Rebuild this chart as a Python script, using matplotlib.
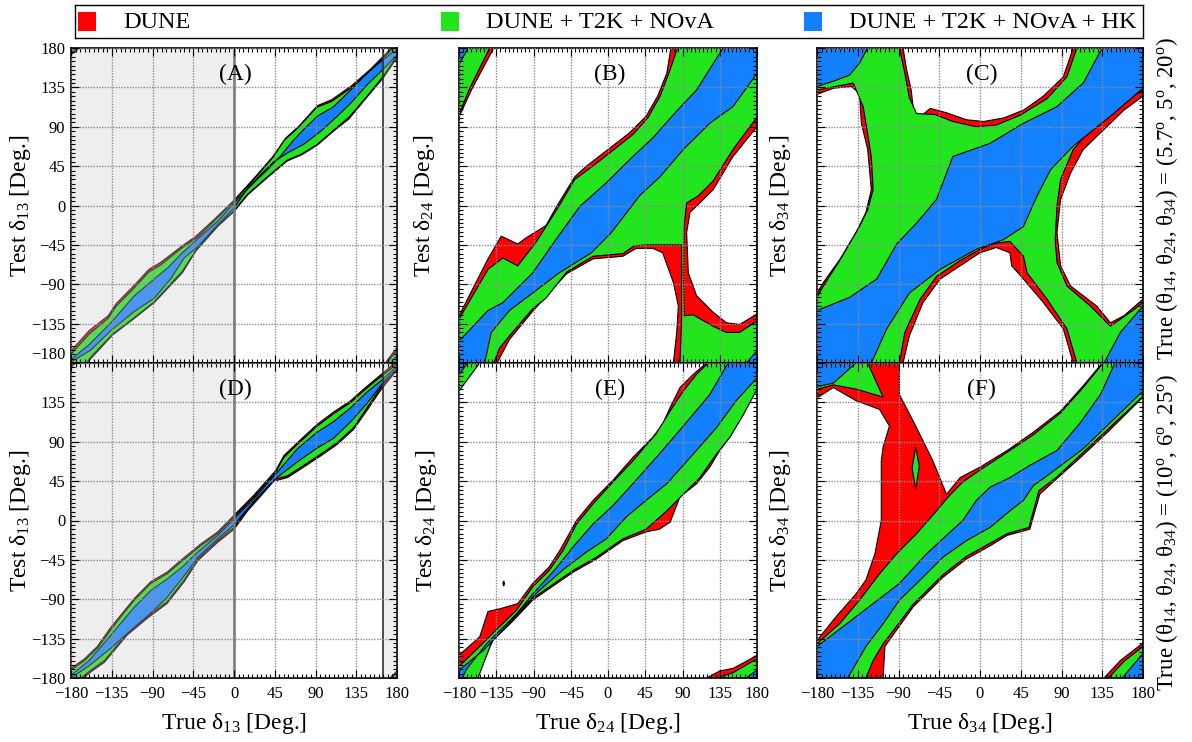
import numpy as np
import matplotlib
matplotlib.use("Agg")
import matplotlib.pyplot as plt
from matplotlib.path import Path
from matplotlib.patches import PathPatch, Rectangle

plt.rcParams["font.family"] = ["Liberation Serif", "DejaVu Serif"]
plt.rcParams["mathtext.fontset"] = "custom"
plt.rcParams["mathtext.rm"] = "Liberation Serif"
plt.rcParams["mathtext.it"] = "Liberation Serif:italic"

RED = "#ff0000"
GREEN = "#22e51e"
BLUE = "#1381ff"

LEGEND_LABELS = ["DUNE", "DUNE + T2K + NOvA", "DUNE + T2K + NOvA + HK"]
TICKS = [-180, -135, -90, -45, 0, 45, 90, 135, 180]
FULL = [(-180, -180), (180, -180), (180, 180), (-180, 180)]

# ---------- (A) true delta13 vs test delta13, set 1 ----------
A_RED = [(-180, -166), (-160, -143), (-139, -126), (-130, -112), (-110, -91), (-94, -73), (-81, -65),
         (-57, -46), (-42, -35), (-22, -16), (0, 6), (22, 31), (43, 56), (57, 77), (72, 91), (92, 114),
         (108, 121), (130, 137), (151, 156), (172, 178), (175, 180), (180, 180), (180, 169), (165, 146),
         (147, 124), (127, 99), (110, 85), (92, 69), (75, 58), (59, 51), (37, 32), (15, 12), (0, -7),
         (-18, -24), (-42, -52), (-57, -77), (-88, -111), (-110, -129), (-134, -148), (-158, -175),
         (-162, -180), (-180, -180)]
A_GREEN = [(-180, -170), (-160, -147), (-139, -129), (-130, -115), (-110, -94), (-94, -76), (-81, -68),
           (-57, -48), (-40, -36), (-22, -18), (0, 5), (22, 30), (43, 55), (56, 75), (71, 89), (91, 112),
           (108, 119), (130, 135), (151, 154), (173, 177), (177, 180), (180, 180), (180, 171), (165, 148),
           (147, 125), (127, 101), (110, 86), (92, 70), (75, 59), (59, 52), (37, 33), (15, 13), (0, -6),
           (-18, -23), (-42, -51), (-57, -75), (-88, -110), (-110, -128), (-134, -147), (-158, -173),
           (-163, -180), (-180, -180)]
A_BLUE = [(-180, -176), (-160, -159), (-136, -134), (-125, -121), (-110, -103), (-88, -84), (-73, -71),
          (-57, -54), (-40, -38), (-18, -18), (0, 3), (22, 26), (37, 41), (51, 56), (66, 75), (77, 87),
          (92, 102), (110, 113), (125, 128), (143, 147), (158, 161), (175, 175), (180, 178), (180, 172),
          (165, 156), (147, 138), (129, 117), (114, 102), (96, 85), (77, 70), (59, 60), (44, 50), (29, 35),
          (15, 20), (0, -3), (-18, -22), (-40, -47), (-55, -60), (-70, -84), (-88, -106), (-110, -121),
          (-136, -143), (-158, -165), (-180, -179)]
A_RED_TL = [(-180, 180), (-171, 180), (-180, 172)]
A_GREEN_TL = [(-180, 180), (-173, 180), (-180, 175)]
A_RED_BR = [(167, -180), (180, -162), (180, -180)]
A_GREEN_BR = [(169, -180), (180, -165), (180, -180)]
A_BLUE_BR = [(173, -180), (180, -171), (180, -180)]

# ---------- (B) true delta24 vs test delta24, set 1 ----------
B_RED_HOLE_TL = [(-138, 180), (76, 180), (71, 151), (60, 125), (46, 102), (26, 83), (0, 64), (-26, 45),
                 (-40, 33), (-62, -1), (-75, -23), (-99, -37), (-109, -44), (-129, -35), (-145, -61),
                 (-180, -126), (-180, 101), (-165, 132)]
B_RED_HOLE_LM = [(-134, -180), (79, -180), (83, -145), (85, -115), (79, -88), (66, -54), (54, -49),
                 (34, -49), (18, -58), (-18, -61), (-50, -78), (-91, -121), (-119, -153)]
B_RED_HOLE_LR = [(180, 90), (151, 56), (127, 18), (111, 3), (99, -8), (95, -31), (97, -77), (107, -103),
                 (127, -122), (143, -134), (159, -136), (180, -124)]
B_GREEN_HOLE_TL = [(-143, 180), (84, 180), (75, 155), (63, 125), (48, 100), (30, 81), (2, 60), (-24, 41),
                   (-40, 30), (-62, -5), (-87, -42), (-109, -69), (-127, -60), (-145, -73), (-180, -130),
                   (-180, 104), (-168, 132)]
B_GREEN_HOLE_LM = [(-138, -180), (87, -180), (89, -126), (89, -45), (48, -45), (32, -46), (18, -55),
                   (-18, -58), (-50, -76), (-75, -106), (-91, -118), (-119, -149), (-131, -163)]
B_GREEN_HOLE_LR = [(180, 101), (151, 64), (127, 28), (109, 11), (95, 3), (92, -24), (91, -77), (92, -126),
                   (103, -125), (127, -138), (143, -145), (159, -145), (180, -132)]
B_BLUE = [(-180, -155), (-145, -120), (-127, -111), (-91, -77), (-63, -39), (-34, -1), (-2, 26), (30, 56),
          (54, 77), (83, 108), (107, 132), (139, 180), (180, 180), (180, 151), (151, 113), (123, 94),
          (91, 64), (63, 33), (38, 11), (4, -31), (-20, -54), (-59, -77), (-91, -100), (-119, -120),
          (-141, -145), (-149, -180), (-180, -180)]
B_BLUE_TL = [(-180, 180), (-169, 180), (-180, 161)]
B_BLUE_BR = [(167, -180), (180, -166), (180, -180)]

# ---------- (C) true delta34 vs test delta34, set 1 ----------
C_RED_HOLE_L = [(-180, 127), (-162, 134), (-142, 136), (-133, 128), (-131, 94), (-124, 64), (-120, 18),
                (-126, -8), (-137, -31), (-155, -62), (-173, -88), (-180, -100)]
C_RED_HOLE_T = [(-85, 180), (-81, 155), (-76, 132), (-72, 96), (-55, 111), (-37, 106), (-15, 98), (4, 96),
                (26, 100), (48, 109), (70, 125), (92, 147), (103, 180)]
C_RED_HOLE_B = [(-85, -180), (-78, -149), (-63, -111), (-44, -84), (-22, -69), (0, -54), (18, -48),
                (33, -54), (35, -69), (48, -84), (70, -111), (92, -141), (103, -180)]
C_RED_HOLE_R = [(180, 125), (159, 109), (137, 87), (114, 64), (100, 37), (89, 7), (85, -31), (89, -69),
                (100, -92), (129, -115), (144, -134), (159, -126), (180, -107)]
C_GREEN_HOLE_L = [(-180, 132), (-140, 140), (-129, 113), (-120, 56), (-118, 18), (-124, -5), (-133, -24),
                  (-155, -63), (-173, -92), (-180, -105)]
C_GREEN_HOLE_T = [(-89, 180), (-83, 151), (-78, 123), (-70, 105), (-50, 104), (-30, 96), (-4, 90),
                  (18, 92), (44, 103), (74, 122), (96, 147), (107, 180)]
C_GREEN_HOLE_B = [(-89, -180), (-83, -145), (-66, -107), (-48, -81), (-22, -63), (0, -50), (18, -43),
                  (33, -41), (48, -58), (52, -77), (74, -107), (96, -141), (107, -180)]
C_GREEN_HOLE_R = [(180, 132), (151, 113), (122, 87), (103, 64), (89, 30), (85, -1), (83, -39), (85, -65),
                  (96, -92), (122, -115), (144, -138), (170, -119), (180, -111)]
C_BLUE = [(-180, -120), (-144, -105), (-114, -84), (-92, -44), (-70, -20), (-48, 7), (-30, 56), (11, 71),
          (48, 94), (85, 113), (114, 140), (135, 180), (180, 180), (180, 134), (144, 102), (103, 68),
          (78, 41), (63, 11), (48, -24), (26, -39), (-4, -50), (-44, -73), (-78, -100), (-103, -141),
          (-120, -180), (-180, -180)]
C_BLUE_TL = [(-180, 180), (-124, 180), (-133, 163), (-144, 149), (-162, 142), (-180, 136)]
C_BLUE_BR = [(137, -180), (155, -145), (180, -115), (180, -180)]

# ---------- (D) true delta13 vs test delta13, set 2 ----------
D_RED = [(-180, -169), (-165, -158), (-151, -144), (-136, -122), (-125, -108), (-110, -89), (-92, -70),
         (-74, -59), (-57, -44), (-37, -27), (-18, -13), (0, 6), (22, 29), (46, 57), (55, 74), (70, 89),
         (92, 110), (110, 124), (129, 137), (143, 150), (158, 163), (172, 175), (176, 180), (180, 180),
         (180, 172), (169, 158), (162, 149), (147, 126), (132, 104), (114, 87), (96, 74), (74, 59),
         (59, 49), (44, 45), (33, 32), (15, 11), (0, -10), (-18, -25), (-40, -46), (-55, -70), (-74, -95),
         (-96, -112), (-118, -131), (-143, -162), (-158, -173), (-166, -180), (-180, -180)]
D_GREEN = [(-180, -171), (-165, -160), (-151, -146), (-136, -125), (-125, -110), (-110, -91), (-92, -72),
           (-74, -61), (-57, -46), (-37, -29), (-18, -15), (0, 4), (22, 27), (46, 55), (55, 72), (70, 87),
           (92, 108), (110, 122), (129, 135), (143, 148), (158, 161), (173, 173), (180, 179), (180, 175),
           (169, 161), (162, 152), (147, 129), (132, 106), (114, 89), (96, 76), (74, 61), (59, 51),
           (44, 47), (33, 34), (15, 13), (0, -8), (-18, -23), (-40, -44), (-55, -68), (-74, -93),
           (-96, -110), (-118, -129), (-143, -160), (-158, -171), (-169, -180), (-180, -180)]
D_BLUE = [(-180, -177), (-160, -160), (-136, -131), (-110, -99), (-92, -80), (-74, -67), (-57, -53),
          (-40, -36), (-18, -17), (0, 2), (22, 25), (46, 53), (70, 82), (92, 101), (110, 113), (129, 129),
          (147, 147), (165, 162), (180, 176), (180, 173), (165, 158), (147, 134), (129, 113), (110, 94),
          (92, 83), (70, 67), (46, 48), (22, 22), (0, -5), (-18, -21), (-40, -42), (-57, -66), (-74, -88),
          (-92, -106), (-110, -122), (-136, -146), (-160, -166), (-180, -180)]
D_RED_TL = [(-180, 180), (-175, 180), (-180, 175)]
D_RED_BR = [(172, -180), (180, -172), (180, -180)]
D_GREEN_BR = [(174, -180), (180, -174), (180, -180)]

# ---------- (E) true delta24 vs test delta24, set 2 ----------
E_RED = [(-180, -154), (-155, -133), (-145, -104), (-131, -101), (-109, -95), (-91, -72), (-71, -53),
         (-58, -34), (-38, 0), (-18, 23), (6, 46), (30, 72), (54, 95), (66, 110), (75, 129), (87, 152),
         (103, 167), (119, 180), (180, 180), (180, 152), (163, 121), (147, 95), (135, 80), (123, 61),
         (107, 42), (87, 27), (75, -2), (62, -10), (46, -13), (18, -23), (-14, -44), (-42, -59),
         (-62, -72), (-91, -91), (-115, -115), (-139, -137), (-159, -180), (-180, -180)]
E_GREEN = [(-180, -167), (-155, -144), (-135, -125), (-111, -103), (-91, -76), (-71, -57), (-54, -34),
           (-38, -4), (-18, 19), (6, 44), (30, 68), (58, 99), (75, 125), (91, 148), (107, 167), (121, 180),
           (180, 180), (180, 150), (163, 120), (147, 95), (131, 76), (111, 49), (91, 30), (71, 11),
           (46, -10), (18, -21), (-14, -42), (-42, -57), (-62, -70), (-91, -89), (-115, -113),
           (-139, -135), (-157, -180), (-180, -180)]
E_BLUE = [(-180, -171), (-150, -148), (-120, -118), (-91, -84), (-63, -55), (-42, -30), (-18, -4), (6, 17),
          (30, 42), (62, 76), (91, 108), (123, 144), (145, 180), (180, 180), (180, 163), (155, 137),
          (131, 106), (103, 76), (71, 42), (46, 23), (22, 4), (-2, -21), (-26, -36), (-54, -56),
          (-83, -80), (-115, -111), (-147, -141), (-171, -170), (-176, -180), (-180, -180)]
E_GREEN_TL = [(-180, 180), (-155, 180), (-180, 148)]
E_BLUE_TL = [(-180, 180), (-170, 180), (-180, 166)]
E_RED_BR = [(119, -180), (135, -172), (151, -169), (163, -163), (180, -154), (180, -180)]
E_GREEN_BR = [(131, -180), (151, -174), (180, -158), (180, -180)]
E_BLUE_BR = [(167, -180), (180, -171), (180, -180)]
E_RED_DOT = [(-126, -69), (-125, -72), (-126, -75), (-127, -72)]

# ---------- (F) true delta34 vs test delta34, set 2 ----------
F_RED = [(-180, 180), (-89, 180), (-89, 144), (-72, 110), (-52, 68), (-37, 30), (-22, 49), (0, 61),
         (30, 80), (59, 101), (89, 125), (114, 154), (135, 180), (180, 180), (180, 141), (144, 104),
         (111, 72), (85, 48), (66, 30), (55, -10), (30, -17), (11, -29), (-15, -44), (-41, -65),
         (-74, -99), (-92, -125), (-105, -144), (-107, -180), (-180, -180), (-180, -137), (-159, -110),
         (-137, -84), (-126, -68), (-116, -38), (-109, 0), (-109, 68), (-107, 84), (-100, 108),
         (-111, 127), (-137, 137), (-162, 152), (-180, 140)]
F_GREEN = [(-180, -141), (-155, -118), (-133, -91), (-111, -61), (-92, -38), (-70, -15), (-48, 11),
           (-35, 27), (-19, 44), (2, 59), (30, 78), (59, 98), (89, 123), (114, 152), (136, 180), (180, 180),
           (180, 142), (144, 107), (111, 75), (85, 50), (65, 34), (54, -8), (30, -15), (11, -26),
           (-15, -41), (-41, -62), (-74, -96), (-93, -122), (-107, -141), (-118, -160), (-126, -180),
           (-180, -180)]
F_BLUE = [(-180, -144), (-137, -110), (-89, -72), (-59, -38), (-37, -17), (-19, 0), (-4, 23), (11, 38),
          (33, 49), (55, 63), (85, 80), (111, 112), (133, 144), (149, 180), (180, 180), (180, 148),
          (144, 112), (114, 82), (92, 65), (74, 51), (59, 40), (48, 23), (33, 11), (11, -8), (-15, -23),
          (-41, -42), (-70, -72), (-89, -91), (-107, -118), (-126, -144), (-146, -180), (-180, -180)]
F_GREEN_TL = [(-180, 180), (-124, 180), (-107, 141), (-136, 150), (-162, 155), (-180, 150)]
F_BLUE_TL = [(-180, 180), (-137, 180), (-162, 157), (-180, 153)]
F_GREEN_ISLAND = [(-71, 84), (-67, 62), (-71, 36), (-75, 60)]
F_RED_BR = [(137, -180), (155, -160), (180, -140), (180, -180)]
F_GREEN_BR = [(142, -180), (159, -161), (180, -144), (180, -180)]
F_BLUE_BR = [(157, -180), (180, -152), (180, -180)]


def region_path(polys, holes=()):
    """Compound path: outer rings counter-clockwise, holes clockwise."""
    verts, codes = [], []

    def add(pts, ccw):
        pts = np.asarray(pts, float)
        area = np.sum(pts[:, 0] * np.roll(pts[:, 1], -1) - np.roll(pts[:, 0], -1) * pts[:, 1])
        if (area > 0) != ccw:
            pts = pts[::-1]
        verts.extend(pts.tolist())
        verts.append(pts[0].tolist())
        codes.extend([Path.MOVETO] + [Path.LINETO] * (len(pts) - 1) + [Path.CLOSEPOLY])

    for p in polys:
        add(p, True)
    for h in holes:
        add(h, False)
    return Path(verts, codes)


def fill(ax, color, polys, holes=()):
    patch = PathPatch(region_path(polys, holes), facecolor=color, edgecolor="black",
                      linewidth=0.8, zorder=1)
    ax.add_patch(patch)


def style(ax, letter, xlab, ylab, show_x, show_y, ylab_x, drop_top=False):
    ax.set_xlim(-180, 180)
    ax.set_ylim(-180, 180)
    ax.set_xticks(TICKS)
    ax.set_yticks(TICKS)
    if drop_top:
        ax.set_yticklabels([f"{t}".replace("-", "\u2212") for t in TICKS[:-1]] + [""])
    ax.set_xticks(np.arange(-180, 181, 5), minor=True)
    ax.set_yticks(np.arange(-180, 181, 5), minor=True)
    ax.tick_params(which="both", direction="in", top=True, right=True, labelsize=12, width=0.8)
    ax.tick_params(which="major", length=6)
    ax.tick_params(which="minor", length=3)
    ax.tick_params(axis="x", pad=6, labelbottom=show_x)
    ax.tick_params(axis="y", pad=4, labelleft=show_y)
    ax.grid(True, which="major", color="#8c8c8c", linestyle=(0, (1, 1)), linewidth=1.0)
    ax.set_axisbelow(False)
    for s in ax.spines.values():
        s.set_linewidth(1.2)
    ax.text(2, 150, letter, ha="center", va="center", fontsize=17, zorder=5)
    if xlab:
        ax.set_xlabel(xlab, fontsize=17)
        ax.xaxis.set_label_coords(0.5, -0.105)
    ax.set_ylabel(ylab, fontsize=17)
    ax.yaxis.set_label_coords(ylab_x, 0.5)


def shade13(ax):
    # excluded ranges of the true delta13
    for x0, x1 in [(-180, 0), (165, 180)]:
        ax.add_patch(Rectangle((x0, -180), x1 - x0, 360, facecolor="#cbcbcb", alpha=0.31,
                               edgecolor="none", zorder=2))
    ax.axvline(0, color="#707070", linewidth=1.8, zorder=2.2)
    ax.axvline(165, color="#303030", linewidth=1.2, zorder=2.2)


W, H = 1192, 742
fig = plt.figure(figsize=(W / 100, H / 100), dpi=100)

col_x = [(71, 326), (459, 298), (817, 326)]
row_y = [48, 363]
axes = {}
for r, top in enumerate(row_y):
    for c, (left, width) in enumerate(col_x):
        axes[(r, c)] = fig.add_axes([left / W, 1 - (top + 315) / H, width / W, 315 / H])

# (A)
ax = axes[(0, 0)]
fill(ax, RED, [A_RED, A_RED_TL, A_RED_BR])
fill(ax, GREEN, [A_GREEN, A_GREEN_TL, A_GREEN_BR])
fill(ax, BLUE, [A_BLUE, A_BLUE_BR])
shade13(ax)
style(ax, "(A)", None, r"Test δ$_{\mathregular{13}}$ [Deg.]", False, True, -0.117)
# lift the lowest label clear of the panel below
ax.yaxis.get_major_ticks()[0].label1.set_va("bottom")

# (B)
ax = axes[(0, 1)]
fill(ax, RED, [FULL], [B_RED_HOLE_TL, B_RED_HOLE_LM, B_RED_HOLE_LR])
fill(ax, GREEN, [FULL], [B_GREEN_HOLE_TL, B_GREEN_HOLE_LM, B_GREEN_HOLE_LR])
fill(ax, BLUE, [B_BLUE, B_BLUE_TL, B_BLUE_BR])
style(ax, "(B)", None, r"Test δ$_{\mathregular{24}}$ [Deg.]", False, False, -0.074)

# (C)
ax = axes[(0, 2)]
fill(ax, RED, [FULL], [C_RED_HOLE_L, C_RED_HOLE_T, C_RED_HOLE_B, C_RED_HOLE_R])
fill(ax, GREEN, [FULL], [C_GREEN_HOLE_L, C_GREEN_HOLE_T, C_GREEN_HOLE_B, C_GREEN_HOLE_R])
fill(ax, BLUE, [C_BLUE, C_BLUE_TL, C_BLUE_BR])
style(ax, "(C)", None, r"Test δ$_{\mathregular{34}}$ [Deg.]", False, False, -0.074)

# (D)
ax = axes[(1, 0)]
fill(ax, RED, [D_RED, D_RED_TL, D_RED_BR])
fill(ax, GREEN, [D_GREEN, D_GREEN_BR])
fill(ax, BLUE, [D_BLUE])
shade13(ax)
style(ax, "(D)", r"True δ$_{\mathregular{13}}$ [Deg.]", r"Test δ$_{\mathregular{13}}$ [Deg.]",
      True, True, -0.117, drop_top=True)

# (E)
ax = axes[(1, 1)]
fill(ax, RED, [E_RED, E_RED_BR, E_RED_DOT])
fill(ax, GREEN, [E_GREEN, E_GREEN_TL, E_GREEN_BR])
fill(ax, BLUE, [E_BLUE, E_BLUE_TL, E_BLUE_BR])
style(ax, "(E)", r"True δ$_{\mathregular{24}}$ [Deg.]", r"Test δ$_{\mathregular{24}}$ [Deg.]",
      True, False, -0.067)

# (F)
ax = axes[(1, 2)]
fill(ax, RED, [F_RED, F_RED_BR])
fill(ax, GREEN, [F_GREEN, F_GREEN_TL, F_GREEN_ISLAND, F_GREEN_BR])
fill(ax, BLUE, [F_BLUE, F_BLUE_TL, F_BLUE_BR])
style(ax, "(F)", r"True δ$_{\mathregular{34}}$ [Deg.]", r"Test δ$_{\mathregular{34}}$ [Deg.]",
      True, False, -0.074)

# true mixing angles of each row
fig.text(1167 / W, 1 - 199 / H,
         r"True (θ$_{\mathregular{14}}$, θ$_{\mathregular{24}}$, θ$_{\mathregular{34}}$) = "
         r"(5.7$^{\mathregular{o}}$, 5$^{\mathregular{o}}$, 20$^{\mathregular{o}}$)",
         rotation=90, ha="center", va="center", fontsize=16.5)
fig.text(1167 / W, 1 - 532 / H,
         r"True (θ$_{\mathregular{14}}$, θ$_{\mathregular{24}}$, θ$_{\mathregular{34}}$) = "
         r"(10$^{\mathregular{o}}$, 6$^{\mathregular{o}}$, 25$^{\mathregular{o}}$)",
         rotation=90, ha="center", va="center", fontsize=16.5)

# legend strip across the top
leg = fig.add_axes([75 / W, 1 - 38 / H, 1068 / W, 33 / H])
leg.set_xlim(0, 1)
leg.set_ylim(0, 1)
leg.set_xticks([])
leg.set_yticks([])
for s in leg.spines.values():
    s.set_linewidth(1.0)
for i, (lab, col) in enumerate(zip(LEGEND_LABELS, [RED, GREEN, BLUE])):
    x0 = 0.003 + i * 0.3397
    leg.add_patch(Rectangle((x0, 0.22), 0.017, 0.58, facecolor=col, edgecolor="none"))
    leg.text(x0 + 0.042, 0.47, lab, ha="left", va="center", fontsize=17.5)

fig.savefig("out.png", dpi=100)
